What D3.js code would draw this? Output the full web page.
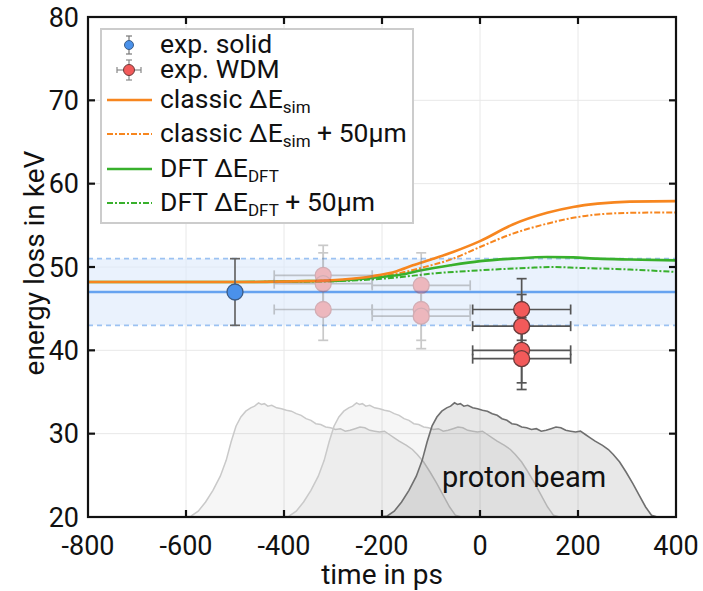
<!DOCTYPE html>
<html>
<head>
<meta charset="utf-8">
<script src="https://cdn.jsdelivr.net/npm/d3@7"></script>
<style>
  body { margin: 0; background: #fff; }
  svg { font-family: Roboto, "Noto Sans", sans-serif; }
</style>
</head>
<body>
<svg id="chart" width="703" height="591"></svg>
<script>
// ---- data ----
const xTicks = [-800, -600, -400, -200, 0, 200, 400];
const yTicks = [20, 30, 40, 50, 60, 70, 80];

// solid reference measurement and its uncertainty band
const solidLevel = 47;
const solidBand = [43, 51];
const expSolid = [{ t: -500, e: 47, dt: 0, de: 4 }];

// earlier WDM shots (drawn faded)
const expWdmFaded = [
  { t: -320, e: 49.0, dt: 100, de: 3.6 },
  { t: -320, e: 48.0, dt: 100, de: 3.7 },
  { t: -320, e: 44.9, dt: 100, de: 3.7 },
  { t: -120, e: 47.8, dt: 100, de: 3.9 },
  { t: -120, e: 44.9, dt: 100, de: 3.7 },
  { t: -120, e: 44.1, dt: 100, de: 3.9 }
];
// WDM shots
const expWdm = [
  { t: 85, e: 44.9, dt: 100, de: 3.7 },
  { t: 85, e: 42.9, dt: 100, de: 3.8 },
  { t: 85, e: 40.0, dt: 100, de: 3.9 },
  { t: 85, e: 39.0, dt: 100, de: 3.7 }
];

// simulated energy loss curves [time ps, keV]
const classicSim = [[-800,48.2],[-500,48.2],[-350,48.3],[-280,48.5],[-220,48.9],[-170,49.5],[-137,50.2],[-100,50.9],[-55,51.8],[0,53.1],[67,55.1],[137,56.5],[190,57.2],[240,57.6],[306,57.85],[400,57.9]];
const classicSim50 = [[-800,48.2],[-500,48.2],[-350,48.3],[-280,48.45],[-220,48.8],[-170,49.2],[-120,49.9],[-55,51.0],[0,52.4],[67,54.0],[137,55.2],[190,55.9],[240,56.3],[306,56.5],[400,56.55]];
const dftSim = [[-800,48.2],[-500,48.2],[-350,48.3],[-280,48.4],[-220,48.7],[-160,49.1],[-120,49.6],[-60,50.2],[0,50.7],[67,51.0],[137,51.2],[190,51.15],[240,51.0],[306,50.9],[400,50.8]];
const dftSim50 = [[-800,48.2],[-500,48.2],[-350,48.25],[-250,48.4],[-160,48.8],[-100,49.2],[0,49.6],[100,49.9],[150,50.0],[200,49.9],[306,49.7],[400,49.4]];

// proton beam temporal profile [time ps, keV axis units]
const beamProfile = [[-205,20],[-190,20.1],[-175,20.7],[-160,21.8],[-145,23.2],[-130,24.9],[-118,26.8],[-108,29.0],[-98,30.9],[-88,32.0],[-78,32.7],[-68,33.1],[-60,33.3],[-52,33.7],[-46,33.5],[-40,33.6],[-33,33.3],[-25,33.4],[-15,33.1],[-5,33.0],[5,32.8],[15,32.7],[25,32.4],[35,32.2],[45,31.8],[55,31.6],[65,31.2],[75,31.1],[85,30.8],[95,30.7],[105,30.5],[115,30.6],[125,30.3],[135,30.4],[145,30.6],[155,30.8],[165,30.7],[175,30.4],[185,30.3],[195,30.2],[205,30.3],[215,29.9],[225,29.5],[235,29.1],[250,28.6],[262,28.1],[272,27.5],[285,26.6],[298,25.4],[312,24.0],[325,22.6],[338,21.2],[350,20.2],[362,20],[400,20]];
const beamShifts = [-400, -200];

const legendItems = [
  { kind: "solid", label: [["exp. solid", false]] },
  { kind: "wdm", label: [["exp. WDM", false]] },
  { kind: "line", color: "#f7861f", dash: null, label: [["classic ΔE", false], ["sim", true]] },
  { kind: "line", color: "#f7861f", dash: "6,2,2,2", label: [["classic ΔE", false], ["sim", true], [" + 50µm", false]] },
  { kind: "line", color: "#38b02c", dash: null, label: [["DFT ΔE", false], ["DFT", true]] },
  { kind: "line", color: "#38b02c", dash: "6,2,2,2", label: [["DFT ΔE", false], ["DFT", true], [" + 50µm", false]] }
];

// ---- layout ----
const svg = d3.select("#chart");
const plotL = 88, plotR = 676, plotT = 17, plotB = 517;
const x = d3.scaleLinear().domain([-800, 400]).range([plotL, plotR]);
const y = d3.scaleLinear().domain([20, 80]).range([plotB, plotT]);

// grid
const grid = svg.append("g").attr("stroke", "#e8e8e8").attr("stroke-width", 1);
grid.selectAll("line.v").data(xTicks.slice(1, -1)).join("line")
  .attr("x1", d => x(d)).attr("x2", d => x(d)).attr("y1", plotT).attr("y2", plotB);
grid.selectAll("line.h").data(yTicks.slice(1, -1)).join("line")
  .attr("x1", plotL).attr("x2", plotR).attr("y1", d => y(d)).attr("y2", d => y(d));

// proton beam profiles
const area = d3.area().x(d => x(d[0])).y0(y(20)).y1(d => y(d[1]));
const outline = d3.line().x(d => x(d[0])).y(d => y(d[1]));
beamShifts.forEach(s => {
  const pts = beamProfile.map(d => [d[0] + s, d[1]]);
  svg.append("path").datum(pts).attr("d", area).attr("fill", "#000").attr("fill-opacity", 0.035);
  svg.append("path").datum(pts).attr("d", outline).attr("fill", "none")
    .attr("stroke", "#c9c9c9").attr("stroke-width", 1.5);
});
svg.append("path").datum(beamProfile).attr("d", area).attr("fill", "#000").attr("fill-opacity", 0.09);
svg.append("path").datum(beamProfile).attr("d", outline).attr("fill", "none")
  .attr("stroke", "#6f6f6f").attr("stroke-width", 1.6);
svg.append("text").attr("x", x(90)).attr("y", 487).attr("text-anchor", "middle")
  .attr("font-size", 29).attr("fill", "#111").text("proton beam");

// solid band
svg.append("rect").attr("x", plotL).attr("width", plotR - plotL)
  .attr("y", y(solidBand[1])).attr("height", y(solidBand[0]) - y(solidBand[1]))
  .attr("fill", "#dce9fb").attr("fill-opacity", 0.6);
solidBand.forEach(v => {
  svg.append("line").attr("x1", plotL).attr("x2", plotR).attr("y1", y(v)).attr("y2", y(v))
    .attr("stroke", "#9cc2f2").attr("stroke-width", 1.8).attr("stroke-dasharray", "5,4");
});
svg.append("line").attr("x1", plotL).attr("x2", plotR).attr("y1", y(solidLevel)).attr("y2", y(solidLevel))
  .attr("stroke", "#66a3f0").attr("stroke-width", 2.5);

// simulation curves
const curve = d3.line().x(d => x(d[0])).y(d => y(d[1])).curve(d3.curveMonotoneX);
[[classicSim50, "#f7861f", "6,2,2,2", 2], [dftSim50, "#38b02c", "6,2,2,2", 2],
 [dftSim, "#38b02c", null, 2.6], [classicSim, "#f7861f", null, 2.6]].forEach(([d, c, dash, w]) => {
  svg.append("path").datum(d).attr("d", curve).attr("fill", "none")
    .attr("stroke", c).attr("stroke-width", w).attr("stroke-dasharray", dash);
});

// error-bar points
function drawPoints(g, data, fill, stroke, barColor, r) {
  data.forEach(p => {
    const cx = x(p.t), cy = y(p.e);
    const b = g.append("g").attr("stroke", barColor).attr("stroke-width", 1.7);
    if (p.dt) {
      b.append("line").attr("x1", x(p.t - p.dt)).attr("x2", x(p.t + p.dt)).attr("y1", cy).attr("y2", cy);
      [p.t - p.dt, p.t + p.dt].forEach(t => b.append("line")
        .attr("x1", x(t)).attr("x2", x(t)).attr("y1", cy - 5).attr("y2", cy + 5));
    }
    b.append("line").attr("x1", cx).attr("x2", cx).attr("y1", y(p.e - p.de)).attr("y2", y(p.e + p.de));
    [p.e - p.de, p.e + p.de].forEach(e => b.append("line")
      .attr("x1", cx - 5).attr("x2", cx + 5).attr("y1", y(e)).attr("y2", y(e)));
  });
  data.forEach(p => {
    g.append("circle").attr("cx", x(p.t)).attr("cy", y(p.e)).attr("r", r)
      .attr("fill", fill).attr("stroke", stroke).attr("stroke-width", 1.3);
  });
}
const faded = svg.append("g").attr("opacity", 0.4);
drawPoints(faded, expWdmFaded, "#f26060", "#b04848", "#7a7a7a", 8);
drawPoints(svg.append("g"), expWdm, "#f25a5a", "#6a3a3a", "#555", 8);
drawPoints(svg.append("g"), expSolid, "#4a91ea", "#3d5d86", "#666", 8);

// legend
const lg = svg.append("g");
lg.append("rect").attr("x", 101).attr("y", 29).attr("width", 312).attr("height", 194)
  .attr("fill", "#fff").attr("stroke", "#cccccc").attr("stroke-width", 2);
const rowBase = [53, 78, 108, 142, 177, 211];
legendItems.forEach((it, i) => {
  const base = rowBase[i];
  const mid = base - 8;
  if (it.kind === "line") {
    lg.append("line").attr("x1", 107).attr("x2", 152).attr("y1", mid).attr("y2", mid)
      .attr("stroke", it.color).attr("stroke-width", it.dash ? 1.8 : 2.6)
      .attr("stroke-dasharray", it.dash);
  } else if (it.kind === "solid") {
    lg.append("line").attr("x1", 129).attr("x2", 129).attr("y1", mid - 9).attr("y2", mid + 9)
      .attr("stroke", "#777").attr("stroke-width", 1.2);
    [mid - 9, mid + 9].forEach(v => lg.append("line").attr("x1", 126).attr("x2", 132)
      .attr("y1", v).attr("y2", v).attr("stroke", "#777").attr("stroke-width", 1.2));
    lg.append("circle").attr("cx", 129).attr("cy", mid).attr("r", 4.5)
      .attr("fill", "#4a91ea").attr("stroke", "#3d5d86");
  } else {
    const w = lg.append("g").attr("stroke", "#888").attr("stroke-width", 1.2);
    w.append("line").attr("x1", 129).attr("x2", 129).attr("y1", mid - 10).attr("y2", mid + 10);
    w.append("line").attr("x1", 117).attr("x2", 141).attr("y1", mid).attr("y2", mid);
    [mid - 10, mid + 10].forEach(v => w.append("line").attr("x1", 126).attr("x2", 132).attr("y1", v).attr("y2", v));
    [117, 141].forEach(v => w.append("line").attr("x1", v).attr("x2", v).attr("y1", mid - 3).attr("y2", mid + 3));
    lg.append("circle").attr("cx", 129).attr("cy", mid).attr("r", 5.5)
      .attr("fill", "#f25a5a").attr("stroke", "#6a3a3a");
  }
  const t = lg.append("text").attr("x", 160).attr("y", base).attr("font-size", 26.5).attr("fill", "#111");
  it.label.forEach(([s, sub]) => {
    const ts = t.append("tspan").text(s);
    if (sub) ts.attr("font-size", 17).attr("dy", 5);
    else if (t.selectAll("tspan").size() > 1) ts.attr("dy", -5);
  });
});

// frame and inward ticks
const ax = svg.append("g").attr("stroke", "#111").attr("stroke-width", 2.2);
ax.append("rect").attr("x", plotL).attr("y", plotT).attr("width", plotR - plotL).attr("height", plotB - plotT)
  .attr("fill", "none");
xTicks.slice(1, -1).forEach(v => {
  ax.append("line").attr("x1", x(v)).attr("x2", x(v)).attr("y1", plotB).attr("y2", plotB - 7);
  ax.append("line").attr("x1", x(v)).attr("x2", x(v)).attr("y1", plotT).attr("y2", plotT + 7);
});
yTicks.slice(1, -1).forEach(v => {
  ax.append("line").attr("x1", plotL).attr("x2", plotL + 7).attr("y1", y(v)).attr("y2", y(v));
  ax.append("line").attr("x1", plotR).attr("x2", plotR - 7).attr("y1", y(v)).attr("y2", y(v));
});

// tick labels
svg.selectAll("text.yl").data(yTicks).join("text")
  .attr("x", 79).attr("y", d => y(d) + 9.5).attr("text-anchor", "end")
  .attr("font-size", 27).attr("fill", "#111").text(d => d);
svg.selectAll("text.xl").data(xTicks).join("text")
  .attr("x", d => x(d)).attr("y", 555).attr("text-anchor", "middle")
  .attr("font-size", 27).attr("fill", "#111").text(d => d);

// axis titles
svg.append("text").attr("x", 382).attr("y", 584).attr("text-anchor", "middle")
  .attr("font-size", 28).attr("fill", "#111").text("time in ps");
svg.append("text").attr("transform", "translate(44,263) rotate(-90)").attr("text-anchor", "middle")
  .attr("font-size", 28).attr("fill", "#111").text("energy loss in keV");
</script>
</body>
</html>
